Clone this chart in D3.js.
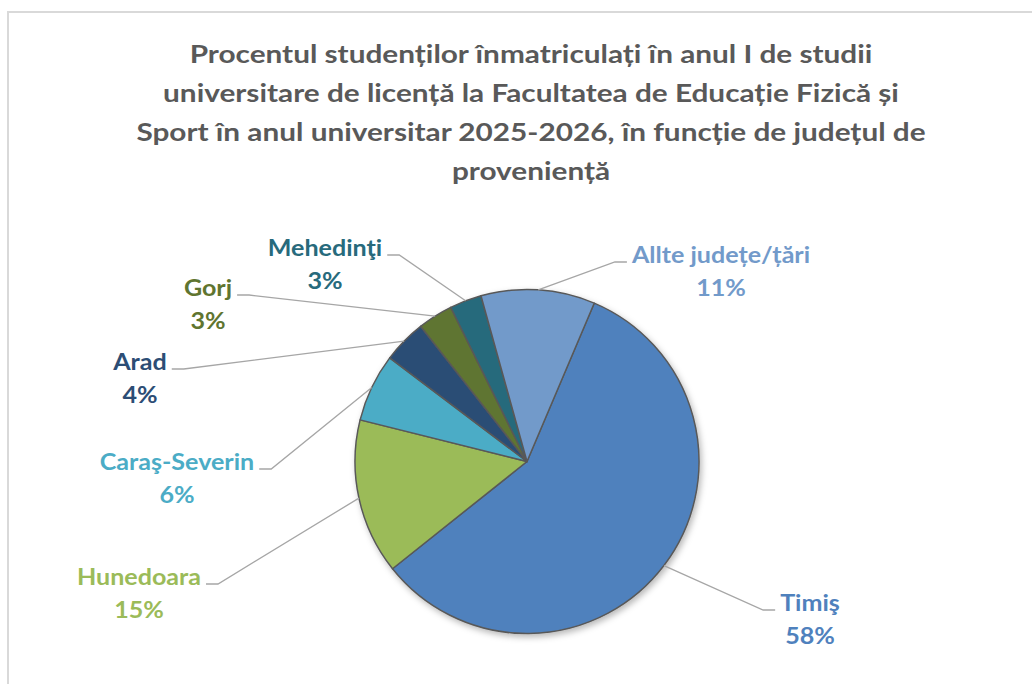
<!DOCTYPE html>
<html>
<head>
<meta charset="utf-8">
<script src="https://cdn.jsdelivr.net/npm/d3@7"></script>
<style>
  html, body { margin: 0; padding: 0; background: #fff; }
  text { font-family: Lato, "Open Sans", sans-serif; font-weight: bold; }
</style>
</head>
<body>
<div id="chart"></div>
<script>
// data
const regions = ["Timiş", "Hunedoara", "Caraş-Severin", "Arad", "Gorj", "Mehedinţi", "Allte județe/țări"];
const shares = [57.9, 14.6, 6.4, 4.1, 3.3, 3.0, 10.7];
const sliceColors = ["#4f81bd", "#9bbb59", "#4bacc6", "#2c4d75", "#5f7530", "#276a7c", "#729aca"];
const titleLines = [
  "Procentul studenților înmatriculați în anul I de studii",
  "universitare de licență la Facultatea de Educație Fizică și",
  "Sport în anul universitar 2025-2026, în funcție de județul de",
  "proveniență"
];

// label placement (layout, like Excel's best fit)
const labelSpots = [[810, 603], [139, 577], [177, 462], [140, 362], [208, 288], [325, 248], [721, 255]];

const width = 1032;
const height = 684;
const cx = 527, cy = 461.5, radius = 172;
// the reference text is a bit wider than Lato, stretch it horizontally
const titleStretch = 1.19;
const labelStretch = 1.14;

const svg = d3.select("#chart")
  .append("svg")
  .attr("width", width)
  .attr("height", height);

// chart frame
svg.append("rect")
  .attr("x", 8).attr("y", 12)
  .attr("width", width + 10).attr("height", height + 10)
  .attr("fill", "#fff")
  .attr("stroke", "#d9d9d9")
  .attr("stroke-width", 2);

// title
svg.append("g")
  .selectAll("text")
  .data(titleLines)
  .join("text")
    .attr("transform", (d, i) => `translate(531,${53 + i * 39.3}) scale(${titleStretch},1)`)
    .attr("text-anchor", "middle")
    .attr("dominant-baseline", "central")
    .attr("font-size", "25px")
    .attr("fill", "#595959")
    .text(d => d);

const defs = svg.append("defs");
defs.append("filter")
  .attr("id", "shadow")
  .attr("x", "-20%").attr("y", "-20%")
  .attr("width", "140%").attr("height", "140%")
  .append("feDropShadow")
    .attr("dx", 2).attr("dy", 3)
    .attr("stdDeviation", 3)
    .attr("flood-color", "#000")
    .attr("flood-opacity", 0.28);

const slices = d3.pie()
  .sort(null)
  .value(d => d.share)
  .startAngle(23 * Math.PI / 180)
  .endAngle((23 + 360) * Math.PI / 180)(regions.map((r, i) => ({ region: r, share: shares[i], i: i })));

const arc = d3.arc().innerRadius(0).outerRadius(radius);
const total = d3.sum(shares);

const pieG = svg.append("g")
  .attr("transform", `translate(${cx},${cy})`);

pieG.append("g")
  .attr("filter", "url(#shadow)")
  .selectAll("path")
  .data(slices)
  .join("path")
    .attr("d", arc)
    .attr("fill", d => sliceColors[d.data.i])
    .attr("stroke", "#595959")
    .attr("stroke-width", 1.5)
    .attr("stroke-linejoin", "round");

// labels
const labelG = svg.append("g");
slices.forEach(d => {
  const [lx, ly] = labelSpots[d.data.i];
  const col = sliceColors[d.data.i];
  const g = labelG.append("g");
  const t1 = g.append("text")
    .attr("transform", `translate(${lx},${ly}) scale(${labelStretch},1)`)
    .attr("text-anchor", "middle")
    .attr("dominant-baseline", "central")
    .attr("font-size", "22px")
    .attr("fill", col)
    .text(d.data.region);
  g.append("text")
    .attr("transform", `translate(${lx},${ly + 33}) scale(${labelStretch},1)`)
    .attr("text-anchor", "middle")
    .attr("dominant-baseline", "central")
    .attr("font-size", "22px")
    .attr("fill", col)
    .text(d3.format(".0%")(d.data.share / total));

  const w = t1.node().getComputedTextLength() * labelStretch;
  const mid = (d.startAngle + d.endAngle) / 2;
  const ex = cx + radius * Math.sin(mid);
  const ey = cy - radius * Math.cos(mid);
  const right = lx > cx;
  const x0 = right ? lx - w / 2 - 5 : lx + w / 2 + 5;
  const x1 = right ? x0 - 12 : x0 + 12;
  const yl = ly + 7;
  labelG.append("path")
    .attr("d", d3.line()([[x0, yl], [x1, yl], [ex, ey]]))
    .attr("fill", "none")
    .attr("stroke", "#a6a6a6")
    .attr("stroke-width", 1.3);
});
</script>
</body>
</html>
